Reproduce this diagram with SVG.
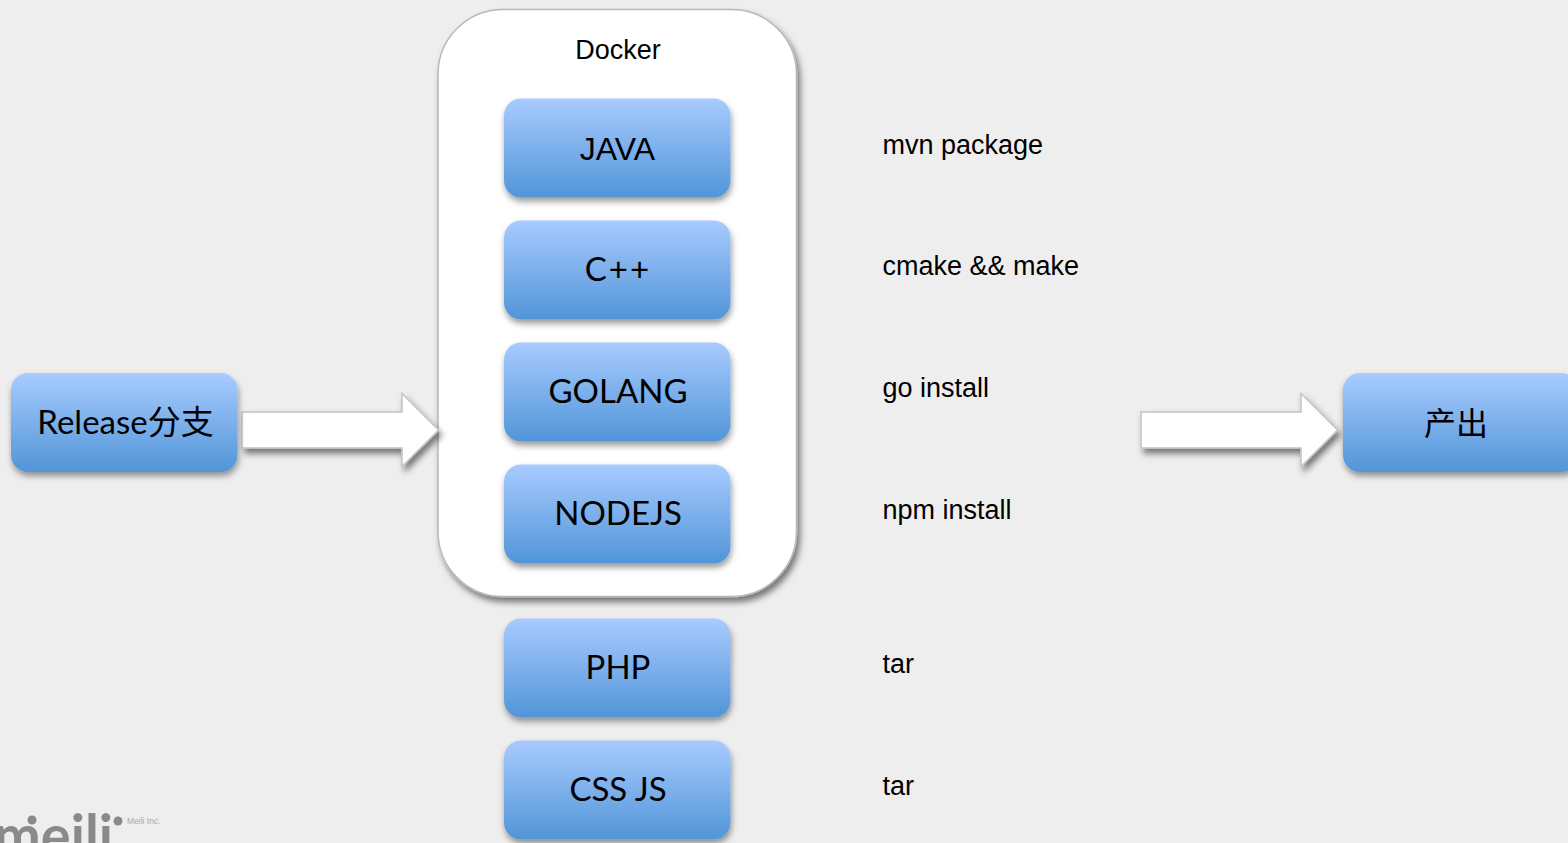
<svg xmlns="http://www.w3.org/2000/svg" width="1568" height="843" viewBox="0 0 1568 843">
<style>
.box{fill:url(#blue);filter:url(#sh)}
.lbl{font-family:"Lato","Noto Sans CJK SC",sans-serif;font-size:33px;fill:#000;text-anchor:middle}
.cmd{font-family:"Liberation Sans",Arial,sans-serif;font-size:27px;fill:#000}
.arrow{fill:#fff;stroke:#c4c4c4;stroke-width:1.5;filter:url(#sh2)}
</style>
<defs>
<linearGradient id="blue" x1="0" y1="0" x2="0" y2="1"><stop offset="0" stop-color="#a8cbff"/><stop offset="1" stop-color="#5195d8"/></linearGradient>
<filter id="sh" x="-10%" y="-10%" width="125%" height="135%"><feDropShadow dx="1" dy="4" stdDeviation="3" flood-color="#000" flood-opacity=".4"/></filter>
<filter id="sh2" x="-10%" y="-20%" width="125%" height="150%"><feDropShadow dx="3" dy="5" stdDeviation="3" flood-color="#000" flood-opacity=".5"/></filter>
</defs>
<rect width="1568" height="843" fill="#eeeeee"/>
<g id="docker">
<rect x="438" y="9.500" width="358.500" height="587" rx="65" fill="#fff" stroke="#b8b8b8" stroke-width="1.500" filter="url(#sh2)"/>
<text x="618" y="59" font-family="Liberation Sans, Arial, sans-serif" font-size="27" text-anchor="middle">Docker</text>
</g>
<g id="logo" fill="#8a8a8a">
<text x="-6" y="856" font-family="Lato, Liberation Sans, sans-serif" font-size="58" font-weight="bold" fill="#8a8a8a" textLength="119" lengthAdjust="spacingAndGlyphs">meili</text>
<circle cx="32" cy="820" r="4.500"/><circle cx="118" cy="821" r="4.500"/>
<text x="127" y="824" font-family="Liberation Sans, Arial, sans-serif" font-size="8.500" fill="#aaa">Meili Inc.</text>
</g>
<g id="connectors">
<path class="arrow" d="M242 412H402V393.500L438.500 430L402 466.500V448H242Z"/>
<path class="arrow" d="M1141 412H1301V393.500L1337.500 430L1301 466.500V448H1141Z"/>
</g>
<g id="release"><rect class="box" x="11" y="373" width="226.500" height="99" rx="17"/><text class="lbl" x="125.500" y="434">Release分支</text></g>
<g id="java"><rect class="box" x="504" y="98.500" width="226.500" height="99" rx="17"/><text class="lbl" x="617.500" y="159.500" style="font-family:'Liberation Sans',Arial,sans-serif;font-size:32px">JAVA</text></g>
<g id="cpp"><rect class="box" x="504" y="220.500" width="226.500" height="99" rx="17"/><text class="lbl" x="618" y="281" style="letter-spacing:2px">C++</text></g>
<g id="golang"><rect class="box" x="504" y="342.500" width="226.500" height="99" rx="17"/><text class="lbl" x="618" y="402.500">GOLANG</text></g>
<g id="nodejs"><rect class="box" x="504" y="464.500" width="226.500" height="99" rx="17"/><text class="lbl" x="618" y="524.500">NODEJS</text></g>
<g id="php"><rect class="box" x="504" y="618.500" width="226.500" height="99" rx="17"/><text class="lbl" x="618" y="678.500">PHP</text></g>
<g id="cssjs"><rect class="box" x="504" y="740.500" width="226.500" height="99" rx="17"/><text class="lbl" x="618" y="800.500">CSS JS</text></g>
<g id="output"><rect class="box" x="1343" y="373" width="235" height="99" rx="17"/><text class="lbl" x="1456" y="434.500" style="font-size:32px">产出</text></g>
<g id="commands">
<text class="cmd" x="882.500" y="154">mvn package</text>
<text class="cmd" x="882.500" y="275">cmake &amp;&amp; make</text>
<text class="cmd" x="882.500" y="397">go install</text>
<text class="cmd" x="882.500" y="519">npm install</text>
<text class="cmd" x="882.500" y="673">tar</text>
<text class="cmd" x="882.500" y="795">tar</text>
</g>
</svg>
